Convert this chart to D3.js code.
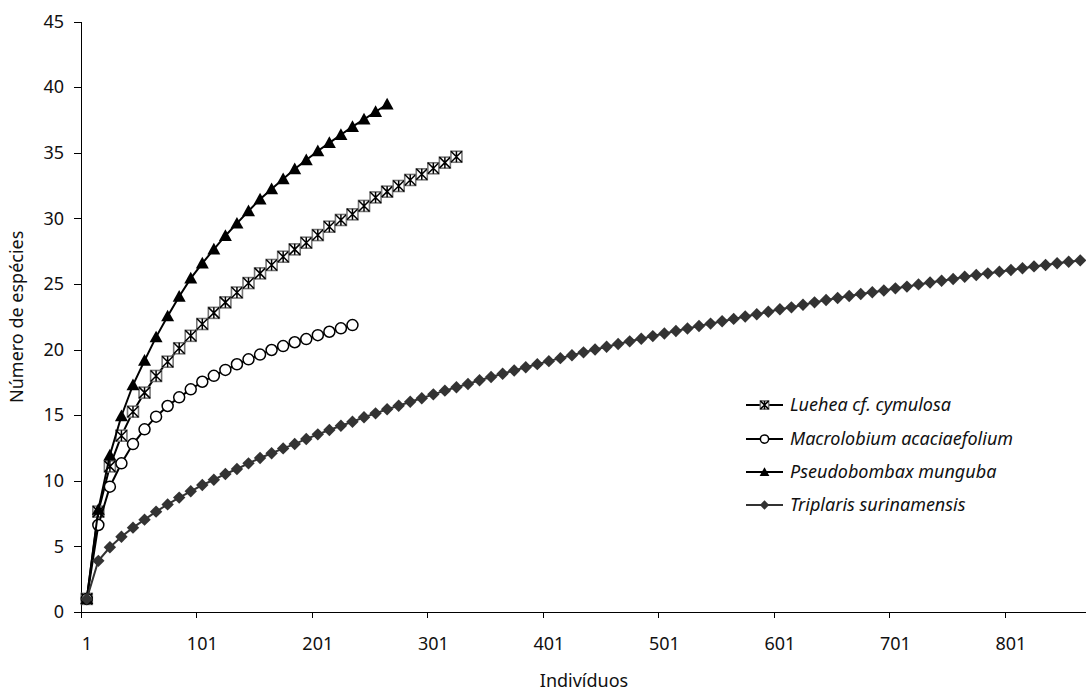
<!DOCTYPE html>
<html>
<head>
<meta charset="utf-8">
<script src="https://cdn.jsdelivr.net/npm/d3@7"></script>
<style>
  body { margin: 0; background: #fff; }
  svg { display: block; font-family: "Noto Sans", "DejaVu Sans", sans-serif; }
  .axis path, .axis line { stroke: #000; shape-rendering: crispEdges; }
  .axis text { font-size: 18px; fill: #111; font-family: "Noto Sans", sans-serif; }
  .legend text { font-size: 18px; font-style: italic; fill: #111; }
</style>
</head>
<body>
<svg width="1086" height="695"></svg>
<script>
// categories: one point every 10 individuals (1, 11, 21 ... 861)
var categories = d3.range(1, 862, 10);
var xTickLabels = [1, 101, 201, 301, 401, 501, 601, 701, 801];
var yTicks = [0, 5, 10, 15, 20, 25, 30, 35, 40, 45];

var seriesNames = ["Luehea cf. cymulosa", "Macrolobium acaciaefolium",
    "Pseudobombax munguba", "Triplaris surinamensis"];

var lueheaValues = [1, 7.65, 11.1, 13.44, 15.27, 16.72, 17.99, 19.08, 20.1, 21.05,
    21.95, 22.8, 23.6, 24.35, 25.07, 25.81, 26.45, 27.08, 27.64, 28.15,
    28.73, 29.37, 29.88, 30.31, 30.95, 31.6, 32.04, 32.47, 32.93, 33.36,
    33.82, 34.25, 34.7];

var macrolobiumValues = [1, 6.63, 9.55, 11.33, 12.8, 13.92, 14.89, 15.7, 16.36, 16.97,
    17.55, 18.0, 18.45, 18.88, 19.26, 19.62, 19.97, 20.27, 20.56, 20.8,
    21.1, 21.36, 21.62, 21.87];

var pseudobombaxValues = [1, 7.8, 11.95, 14.94, 17.3, 19.16, 20.95, 22.55, 24.05, 25.43,
    26.58, 27.64, 28.68, 29.62, 30.56, 31.46, 32.24, 33.0, 33.77, 34.45,
    35.14, 35.76, 36.38, 36.99, 37.55, 38.13, 38.7];

var triplarisValues = [1, 3.9, 4.93, 5.74, 6.43, 7.04, 7.65, 8.2, 8.72, 9.2,
    9.68, 10.08, 10.52, 10.9, 11.33, 11.74, 12.1, 12.47, 12.8, 13.19,
    13.54, 13.87, 14.2, 14.5, 14.84, 15.14, 15.45, 15.72, 16.03, 16.29,
    16.59, 16.87, 17.13, 17.38, 17.66, 17.91, 18.16, 18.41, 18.65, 18.89,
    19.12, 19.35, 19.57, 19.79, 20.01, 20.22, 20.43, 20.63, 20.83, 21.03,
    21.23, 21.42, 21.61, 21.8, 21.98, 22.16, 22.34, 22.52, 22.7, 22.88,
    23.07, 23.22, 23.42, 23.6, 23.78, 23.93, 24.09, 24.24, 24.37, 24.51,
    24.67, 24.8, 24.97, 25.12, 25.25, 25.38, 25.55, 25.69, 25.81, 25.94,
    26.07, 26.2, 26.34, 26.45, 26.58, 26.7, 26.8];

d3.select(window).on('load', init);

function init() {
    var svg = d3.select('svg');

    var x = d3.scaleBand().domain(categories).range([81, 1086]).padding(0);
    var bw = x.bandwidth();
    var y = d3.scaleLinear().domain([0, 45]).range([612, 21.6]);
    var cx = function(c) { return x(c) + bw / 2; };

    // x axis: labels centred on categories, tick marks on category boundaries
    var xAxis = svg.append('g')
        .attr('class', 'axis x')
        .attr('transform', 'translate(0,612)')
        .call(d3.axisBottom(x).tickValues(xTickLabels).tickSize(6).tickSizeOuter(0).tickPadding(19));
    xAxis.selectAll('.tick line').attr('transform', 'translate(' + (-bw / 2) + ',0)');

    svg.append('g')
        .attr('class', 'axis y')
        .attr('transform', 'translate(81,0)')
        .call(d3.axisLeft(y).tickValues(yTicks).tickSize(7).tickSizeOuter(0).tickPadding(10));

    svg.append('text')
        .attr('x', 584).attr('y', 687)
        .attr('text-anchor', 'middle')
        .style('font-size', '18px').style('fill', '#111')
        .text('Indivíduos');
    svg.append('text')
        .attr('transform', 'translate(23,' + y(22.5) + ') rotate(-90)')
        .attr('text-anchor', 'middle')
        .style('font-size', '18px').style('fill', '#111')
        .text('Número de espécies');

    var series = [
        {name: seriesNames[0], values: lueheaValues, color: '#000', marker: 'square'},
        {name: seriesNames[1], values: macrolobiumValues, color: '#000', marker: 'circle'},
        {name: seriesNames[2], values: pseudobombaxValues, color: '#000', marker: 'triangle'},
        {name: seriesNames[3], values: triplarisValues, color: '#333', marker: 'diamond'}
    ];

    var line = d3.line()
        .x(function(d, i) { return cx(categories[i]); })
        .y(function(d) { return y(d); });

    series.forEach(function(s) {
        var g = svg.append('g');
        g.append('path')
            .attr('d', line(s.values))
            .attr('fill', 'none')
            .attr('stroke', s.color)
            .attr('stroke-width', 2);
        g.selectAll('g.pt')
            .data(s.values)
            .enter().append('g')
            .attr('class', 'pt')
            .attr('transform', function(d, i) { return 'translate(' + cx(categories[i]) + ',' + y(d) + ')'; })
            .each(function() { drawMarker(d3.select(this), s.marker, 1); });
    });

    // legend
    var legendY = [405, 439, 472, 505];
    var legend = svg.append('g').attr('class', 'legend');
    series.forEach(function(s, i) {
        var g = legend.append('g').attr('transform', 'translate(0,' + legendY[i] + ')');
        g.append('line')
            .attr('x1', 746).attr('x2', 783)
            .attr('stroke', s.color).attr('stroke-width', 2);
        var m = g.append('g').attr('transform', 'translate(764.5,0)');
        drawMarker(m, s.marker, 0.75);
        g.append('text')
            .attr('x', 790).attr('y', 0).attr('dy', '0.35em')
            .text(s.name);
    });
}

function drawMarker(g, type, k) {
    var h = 5.5 * k;
    if (type === 'square') {
        g.append('rect')
            .attr('x', -h).attr('y', -h).attr('width', 2 * h).attr('height', 2 * h)
            .attr('fill', '#fff').attr('stroke', '#777').attr('stroke-width', 1.6);
        g.append('path')
            .attr('d', 'M' + (-h) + ',' + (-h) + 'L' + h + ',' + h +
                'M' + h + ',' + (-h) + 'L' + (-h) + ',' + h +
                'M0,' + (-h) + 'L0,' + h)
            .attr('stroke', '#000').attr('stroke-width', 1.5);
    } else if (type === 'circle') {
        g.append('circle')
            .attr('r', h).attr('fill', '#fff')
            .attr('stroke', '#000').attr('stroke-width', 1.5);
    } else if (type === 'triangle') {
        var t = 6.5 * k;
        g.append('path')
            .attr('d', 'M0,' + (-t) + 'L' + t + ',' + (t * 0.8) + 'L' + (-t) + ',' + (t * 0.8) + 'Z')
            .attr('fill', '#000');
    } else {
        var d = 6.2 * k;
        g.append('path')
            .attr('d', 'M0,' + (-d) + 'L' + d + ',0L0,' + d + 'L' + (-d) + ',0Z')
            .attr('fill', '#333');
    }
}
</script>
</body>
</html>
